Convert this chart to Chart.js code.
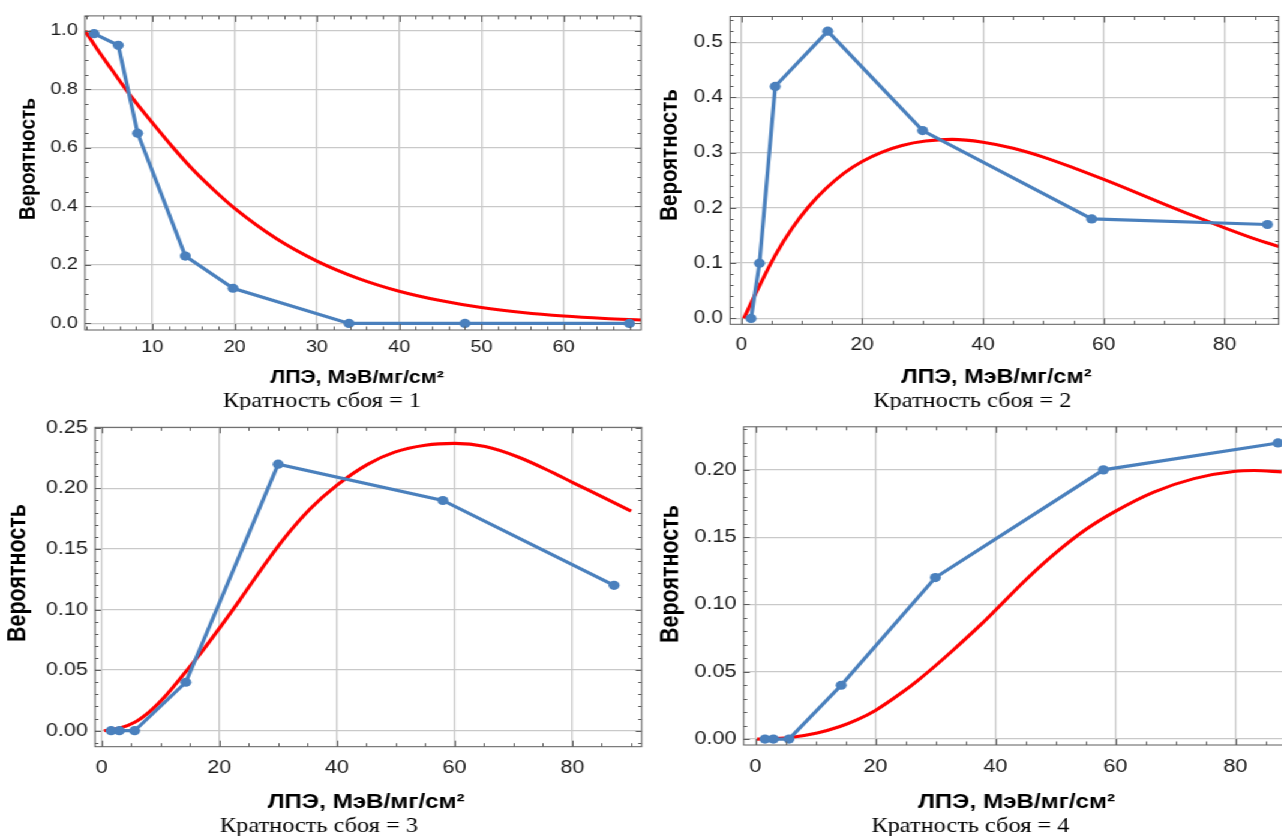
<!DOCTYPE html>
<html lang="ru">
<head>
<meta charset="utf-8">
<title>Вероятность кратности сбоя</title>
<script src="https://cdn.jsdelivr.net/npm/chart.js@4/dist/chart.umd.min.js"></script>
<style>
  html, body { margin: 0; padding: 0; background: #fff; overflow: hidden; }
  /* the whole sheet is laid out narrow and then widened, like the printed figure */
  #sheet { position: absolute; left: 0; top: 0; width: 1100px; height: 836px; transform: scaleX(1.2); transform-origin: 0 0; }
  .panel { position: absolute; }
  .panel canvas { display: block; }
</style>
</head>
<body>
<div id="sheet">
  <div class="panel" style="left:0px;top:0px"><canvas id="p1" width="542" height="410"></canvas></div>
  <div class="panel" style="left:541.67px;top:0px"><canvas id="p2" width="542" height="410"></canvas></div>
  <div class="panel" style="left:0px;top:410px"><canvas id="p3" width="542" height="426"></canvas></div>
  <div class="panel" style="left:541.67px;top:410px"><canvas id="p4" width="542" height="426"></canvas></div>
</div>
<script>
const STRETCH = 1.2;
const BLUE = '#4a80bd';
const RED = '#ff0000';
const GRID = '#c9c9c9';

// measured probabilities vs LET (MeV/mg/cm2)
const let1 = [2.9, 5.85, 8.2, 14, 19.8, 33.9, 48, 68];
const prob1 = [0.99, 0.95, 0.65, 0.23, 0.12, 0, 0, 0];
const letN = [1.6, 3.0, 5.6, 14.3, 30, 58, 87.1];
const prob2 = [0, 0.10, 0.42, 0.52, 0.34, 0.18, 0.17];
const prob3 = [0, 0, 0, 0.04, 0.22, 0.19, 0.12];
const prob4 = [0, 0, 0, 0.04, 0.12, 0.20, 0.22];

// model curves
const fitLet1 = [1.8, 3.5, 5, 7.5, 10, 12.5, 15, 17.5, 20, 25, 30, 35, 40, 45, 50, 55, 60, 65, 69.4];
const fitProb1 = [1.0, 0.928, 0.869, 0.772, 0.685, 0.601, 0.523, 0.455, 0.393, 0.291, 0.213, 0.154, 0.110, 0.078, 0.054, 0.037, 0.025, 0.0168, 0.0117];
const fitLet2 = [0.4, 2.9, 5.6, 8.4, 11.2, 14, 17, 20, 23.3, 26.6, 30.5, 34.9, 40, 45, 50, 55, 60, 65, 70, 75, 80, 85, 89];
const fitProb2 = [0, 0.057, 0.114, 0.163, 0.203, 0.235, 0.263, 0.284, 0.301, 0.313, 0.321, 0.324, 0.319, 0.308, 0.292, 0.2725, 0.2515, 0.2295, 0.207, 0.185, 0.164, 0.144, 0.130];
const fitLet3 = [0.4, 3, 5.7, 8.2, 11, 14.3, 17, 20, 23.5, 26.15, 31, 35.5, 40, 45.2, 49.8, 55, 60, 65.2, 70.9, 76.6, 80, 85.1, 90];
const fitProb3 = [0, 0.002, 0.0072, 0.016, 0.0295, 0.0487, 0.065, 0.0845, 0.108, 0.1265, 0.1585, 0.1833, 0.2026, 0.2198, 0.2299, 0.2356, 0.2371, 0.2345, 0.2257, 0.2132, 0.205, 0.193, 0.1812];
const fitLet4 = [0.3, 5.5, 10.3, 14.1, 17, 20, 24.3, 27.1, 30, 32.7, 37.7, 40, 45, 49.7, 55, 59.9, 66.4, 73.1, 80, 83.1, 87.7];
const fitProb4 = [0, 0.001, 0.0045, 0.0093, 0.0144, 0.0213, 0.0342, 0.0437, 0.0545, 0.0651, 0.0856, 0.0957, 0.118, 0.137, 0.1555, 0.169, 0.1835, 0.1935, 0.199, 0.1995, 0.1985];

// tick labels
const xTicks1 = [10, 20, 30, 40, 50, 60];
const xTicksN = [0, 20, 40, 60, 80];
const yTicks1 = [0, 0.2, 0.4, 0.6, 0.8, 1.0];
const yTicks2 = [0, 0.1, 0.2, 0.3, 0.4, 0.5];
const yTicks3 = [0, 0.05, 0.1, 0.15, 0.2, 0.25];
const yTicks4 = [0, 0.05, 0.1, 0.15, 0.2];

const xTitle = 'ЛПЭ, МэВ/мг/см²';
const yTitle = 'Вероятность';
const captions = ['Кратность сбоя = 1', 'Кратность сбоя = 2', 'Кратность сбоя = 3', 'Кратность сбоя = 4'];

const SANS = "'Liberation Sans', Arial, sans-serif";
const SERIF = "'Liberation Serif', 'Times New Roman', serif";

function toPoints(xs, ys) {
  return xs.map((x, i) => ({ x: x, y: ys[i] }));
}

// frame around the plot area with small inward ticks on every side
const framePlugin = {
  id: 'frame',
  afterDraw(chart, args, o) {
    const { ctx, chartArea: a } = chart;
    const sx = chart.scales.x, sy = chart.scales.y;
    ctx.save();
    ctx.strokeStyle = '#5c5c5c';
    ctx.lineWidth = 1;
    ctx.beginPath();
    const seg = (x1, y1, x2, y2) => { ctx.moveTo(x1, y1); ctx.lineTo(x2, y2); };
    const each = (min, max, step, fn) => {
      for (let i = Math.ceil(min / step - 1e-9); i * step <= max + 1e-9; i++) fn(i * step);
    };
    const isMajor = (v, list) => list.some(t => Math.abs(t - v) < 1e-9);
    const xMaj = sx.ticks.map(t => t.value), yMaj = sy.ticks.map(t => t.value);
    each(sx.min, sx.max, o.xStep, v => {
      const len = isMajor(v, xMaj) ? 6 : 3.5;
      const px = Math.round(sx.getPixelForValue(v)) + 0.5;
      seg(px, a.bottom, px, a.bottom - len);
      seg(px, a.top, px, a.top + len);
    });
    each(sy.min, sy.max, o.yStep, v => {
      const len = (isMajor(v, yMaj) ? 6 : 3.5) / STRETCH;
      const py = Math.round(sy.getPixelForValue(v)) + 0.5;
      seg(a.left, py, a.left + len, py);
      seg(a.right, py, a.right - len, py);
    });
    ctx.stroke();
    ctx.strokeRect(a.left, a.top, a.right - a.left, a.bottom - a.top);
    ctx.restore();
  }
};

// axis titles and the caption under each panel
const textPlugin = {
  id: 'panelText',
  afterDraw(chart, args, o) {
    const ctx = chart.ctx;
    ctx.save();
    ctx.fillStyle = '#000';
    ctx.textAlign = 'center';
    ctx.textBaseline = 'alphabetic';
    ctx.font = 'bold ' + o.xTitleSize + 'px ' + SANS;
    ctx.fillText(xTitle, o.xTitleAt[0], o.xTitleAt[1]);
    ctx.save();
    ctx.translate(o.yTitleAt[0], o.yTitleAt[1]);
    ctx.rotate(-Math.PI / 2);
    ctx.textBaseline = 'middle';
    ctx.font = 'bold ' + o.yTitleSize + 'px ' + SANS;
    ctx.fillText(yTitle, 0, 0);
    ctx.restore();
    ctx.font = o.captionSize + 'px ' + SERIF;
    ctx.fillText(o.caption, o.captionAt[0], o.captionAt[1]);
    ctx.restore();
  }
};

function drawPanel(id, p) {
  new Chart(document.getElementById(id), {
    type: 'scatter',
    data: {
      datasets: [
        {
          data: toPoints(p.xs, p.ys),
          showLine: true,
          borderColor: BLUE,
          backgroundColor: BLUE,
          borderWidth: 3.2,
          pointRadius: 4.6,
          pointHoverRadius: 4.6,
          pointBorderWidth: 0,
          order: 0
        },
        {
          data: toPoints(p.fitXs, p.fitYs),
          showLine: true,
          borderColor: RED,
          backgroundColor: RED,
          borderWidth: 3.1,
          pointRadius: 0,
          cubicInterpolationMode: 'monotone',
          order: 1
        }
      ]
    },
    options: {
      responsive: false,
      animation: false,
      events: [],
      layout: { padding: { left: 0, top: p.padTop, right: p.padRight, bottom: 0 } },
      plugins: {
        legend: { display: false },
        tooltip: { enabled: false },
        frame: { xStep: p.xStep, yStep: p.yStep },
        panelText: p.text
      },
      scales: {
        x: {
          type: 'linear',
          min: p.xRange[0],
          max: p.xRange[1],
          afterBuildTicks: s => { s.ticks = p.xTicks.map(v => ({ value: v })); },
          afterFit: s => { s.height = p.axisH; },
          grid: { color: GRID, lineWidth: 1.3, drawTicks: false },
          border: { display: false },
          ticks: {
            autoSkip: false, maxRotation: 0, padding: p.xPad,
            color: '#1a1a1a', font: { family: SANS, size: p.tickSize },
            callback: v => String(v)
          }
        },
        y: {
          type: 'linear',
          min: p.yRange[0],
          max: p.yRange[1],
          afterBuildTicks: s => { s.ticks = p.yTicks.map(v => ({ value: v })); },
          afterFit: s => { s.width = p.axisW; },
          grid: { color: GRID, lineWidth: 1.3, drawTicks: false },
          border: { display: false },
          ticks: {
            autoSkip: false, padding: 6,
            color: '#1a1a1a', font: { family: SANS, size: p.tickSize },
            callback: v => v.toFixed(p.yDigits)
          }
        }
      }
    },
    plugins: [framePlugin, textPlugin]
  });
}

drawPanel('p1', {
  xs: let1, ys: prob1, fitXs: fitLet1, fitYs: fitProb1,
  xTicks: xTicks1, yTicks: yTicks1, yDigits: 1,
  xRange: [1.8, 69.4], yRange: [-0.0226, 1.0506], xStep: 2, yStep: 0.05,
  padTop: 11.7, padRight: 7.83, axisW: 70.83, axisH: 80, xPad: 8, tickSize: 16.5,
  text: { xTitleSize: 17.8, yTitleSize: 19, captionSize: 20.3, caption: captions[0],
          xTitleAt: [297.5, 383], yTitleAt: [24.2, 159], captionAt: [268.3, 407] }
});

drawPanel('p2', {
  xs: letN, ys: prob2, fitXs: fitLet2, fitYs: fitProb2,
  xTicks: xTicksN, yTicks: yTicks2, yDigits: 1,
  xRange: [-1.87, 88.96], yRange: [-0.0107, 0.5465], xStep: 5, yStep: 0.02,
  padTop: 13.3, padRight: 18.42, axisW: 66.42, axisH: 85.7, xPad: 10, tickSize: 17.5,
  text: { xTitleSize: 19.5, yTitleSize: 20.5, captionSize: 20.3, caption: captions[1],
          xTitleAt: [288.3, 383], yTitleAt: [16.7, 155], captionAt: [268.3, 407] }
});

drawPanel('p3', {
  xs: letN, ys: prob3, fitXs: fitLet3, fitYs: fitProb3,
  xTicks: xTicksN, yTicks: yTicks3, yDigits: 2,
  xRange: [-1.14, 91.8], yRange: [-0.0132, 0.2504], xStep: 5, yStep: 0.01,
  padTop: 17.3, padRight: 7.25, axisW: 79.17, axisH: 89.3, xPad: 11, tickSize: 18,
  text: { xTitleSize: 20.2, yTitleSize: 21.5, captionSize: 20.3, caption: captions[2],
          xTitleAt: [305, 397.5], yTitleAt: [15, 163], captionAt: [265.8, 421.7] }
});

drawPanel('p4', {
  xs: letN, ys: prob4, fitXs: fitLet4, fitYs: fitProb4,
  xTicks: xTicksN, yTicks: yTicks4, yDigits: 2,
  xRange: [-1.95, 89], yRange: [-0.0044, 0.232], xStep: 5, yStep: 0.01,
  padTop: 15, padRight: 9.5, axisW: 77.75, axisH: 91, xPad: 11, tickSize: 18,
  text: { xTitleSize: 20.2, yTitleSize: 21.5, captionSize: 20.3, caption: captions[3],
          xTitleAt: [305, 398], yTitleAt: [17.5, 164], captionAt: [266.7, 422] }
});
</script>
</body>
</html>
